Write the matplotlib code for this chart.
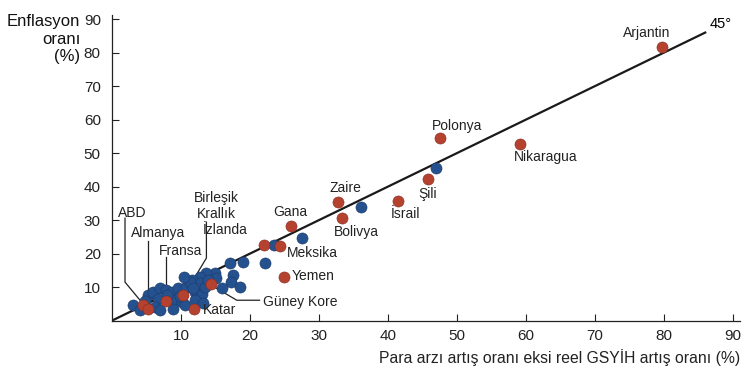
import matplotlib.pyplot as plt

plt.rcParams['font.family'] = ['Liberation Sans', 'DejaVu Sans']

# labelled countries (red)
names = ['ABD', 'Almanya', 'Fransa', 'Birleşik\nKrallık', 'Katar', 'Güney Kore',
         'İzlanda', 'Meksika', 'Gana', 'Yemen', 'Zaire', 'Bolivya', 'İsrail',
         'Şili', 'Polonya', 'Nikaragua', 'Arjantin']
red_x = [4.5, 5.3, 7.9, 10.3, 11.9, 14.4, 22.1, 24.4, 26.0, 24.9, 32.7, 33.4,
         41.4, 45.8, 47.6, 59.2, 79.7]
red_y = [4.8, 3.6, 6.0, 7.6, 3.6, 10.9, 22.5, 22.3, 28.3, 13.1, 35.5, 30.5,
         35.8, 42.4, 54.6, 52.8, 81.6]

# other countries (blue)
blue_x = [47.0, 36.1, 27.6, 23.5, 22.2, 19.0, 17.1, 17.6, 17.3, 18.6, 15.9, 14.9,
          13.7, 12.8, 11.6, 11.1, 12.0, 12.8, 13.0, 13.5, 12.0, 3.1, 4.1, 5.3,
          6.0, 7.0, 7.9, 8.7, 9.6, 10.8, 11.3, 6.7, 6.2, 9.1, 8.9, 10.1, 7.0,
          10.6, 15.1, 9.8, 8.0, 11.8, 14.0, 4.8, 13.2, 10.4]
blue_y = [45.6, 34.0, 24.8, 22.5, 17.1, 17.6, 17.1, 13.6, 11.6, 10.1, 9.6, 14.1,
          14.1, 13.1, 12.1, 10.1, 8.6, 11.1, 8.1, 10.1, 6.1, 4.6, 3.1, 7.6,
          8.6, 9.6, 9.1, 8.6, 9.6, 10.1, 11.6, 6.6, 4.1, 6.1, 3.6, 5.6, 3.1,
          4.6, 12.6, 7.5, 7.8, 9.8, 12.0, 5.8, 5.2, 12.9]

# label placement: (x, y, ha)
label_pos = {
    'ABD': (3.0, 32.2, 'center'),
    'Almanya': (6.7, 26.1, 'center'),
    'Fransa': (10.0, 20.7, 'center'),
    'Birleşik\nKrallık': (15.2, 34.2, 'center'),
    'Katar': (13.2, 3.1, 'left'),
    'Güney Kore': (21.9, 5.6, 'left'),
    'İzlanda': (16.4, 27.0, 'center'),
    'Meksika': (29.1, 20.1, 'center'),
    'Gana': (25.8, 32.4, 'center'),
    'Yemen': (26.1, 13.3, 'left'),
    'Zaire': (33.8, 39.6, 'center'),
    'Bolivya': (35.4, 26.4, 'center'),
    'İsrail': (42.5, 31.8, 'center'),
    'Şili': (45.8, 37.8, 'center'),
    'Polonya': (50.1, 58.1, 'center'),
    'Nikaragua': (62.9, 48.8, 'center'),
    'Arjantin': (77.5, 85.8, 'center'),
}

leaders = [
    [(1.9, 30.6), (1.9, 11.5), (4.2, 5.8)],
    [(5.3, 23.7), (5.3, 5.2)],
    [(7.9, 19.0), (7.9, 6.7)],
    [(13.7, 29.4), (13.7, 18.7), (10.9, 9.1)],
    [(14.4, 10.6), (18.1, 6.1), (21.4, 6.1)],
]

red = '#b5412f'
blue = '#25518f'

fig = plt.figure(figsize=(7.51, 3.69), dpi=100)
ax = fig.add_axes([0.149, 0.131, 0.836, 0.828])

ax.plot([0, 86], [0, 86], color='#1a1a1a', lw=1.6, zorder=1)
ax.text(86.6, 88.6, '45°', fontsize=10.5, ha='left', va='center')

for seg in leaders:
    xs = [p[0] for p in seg]
    ys = [p[1] for p in seg]
    ax.plot(xs, ys, color='#222222', lw=0.9, zorder=2)

ax.scatter(blue_x, blue_y, s=64, color=blue, edgecolors='#1b3a68', linewidths=0.4, zorder=3)
ax.scatter(red_x, red_y, s=64, color=red, edgecolors='#8a2d20', linewidths=0.4, zorder=4)

for n in names:
    x, y, ha = label_pos[n]
    ax.text(x, y, n, fontsize=10, ha=ha, va='center', color='#222222',
            linespacing=1.15, zorder=5)

ax.set_xlim(0, 91)
ax.set_ylim(0, 91.2)
ax.set_xticks(range(10, 91, 10))
ax.set_yticks(range(10, 91, 10))
ax.tick_params(direction='in', length=5, width=0.8, labelsize=11, colors='#222222')
ax.tick_params(axis='x', pad=6)
ax.tick_params(axis='y', pad=8)
for s in ['top', 'right']:
    ax.spines[s].set_visible(False)
for s in ['left', 'bottom']:
    ax.spines[s].set_linewidth(0.9)
    ax.spines[s].set_color('#222222')

ax.set_xlabel('Para arzı artış oranı eksi reel GSYİH artış oranı (%)', fontsize=11.3,
              loc='right', color='#222222')
fig.text(0.107, 0.962, 'Enflasyon\noranı\n(%)', fontsize=12, ha='right', va='top',
         linespacing=1.22, color='#111111')

fig.savefig('out.png', dpi=100)
